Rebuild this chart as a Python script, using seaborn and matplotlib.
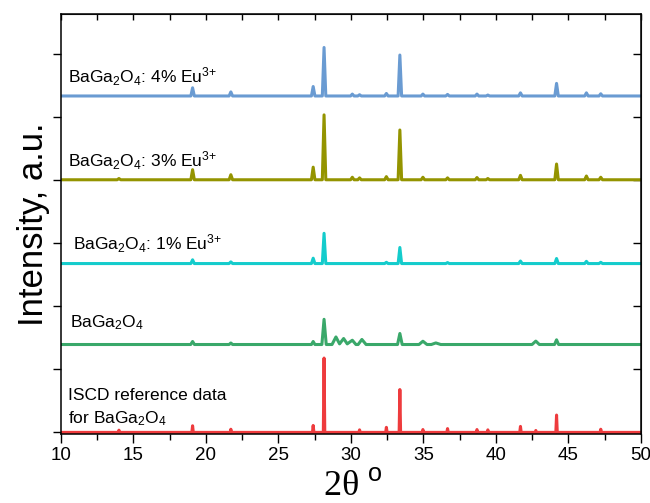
import matplotlib
matplotlib.use('Agg')
import numpy as np
import pandas as pd
import matplotlib.pyplot as plt
import seaborn as sns

# XRD patterns (2theta in degrees, intensity in a.u. above each trace's baseline)
samples = ['ISCD', 'BaGa2O4', '1% Eu', '3% Eu', '4% Eu']
colors = ['#ee3b3d', '#3aa86a', '#14cccc', '#949400', '#6a9bd2']
offsets = [0.0, 1.395, 2.68, 4.01, 5.34]

iscd_x = [10, 13.95, 14.0, 14.05, 19.03, 19.08, 19.13, 21.67, 21.72, 21.77,
          27.35, 27.4, 27.45, 28.1, 28.15, 28.2, 30.55, 30.6, 30.65,
          32.4, 32.45, 32.5, 33.33, 33.38, 33.43, 34.92, 34.97, 35.02,
          36.62, 36.67, 36.72, 38.65, 38.7, 38.75, 39.4, 39.45, 39.5,
          41.65, 41.7, 41.75, 42.71, 42.76, 42.81, 44.14, 44.19, 44.24,
          47.19, 47.24, 47.29, 50]
iscd_y = [0, 0, 0.035, 0, 0, 0.105, 0, 0, 0.05, 0,
          0, 0.11, 0, 0, 1.18, 0, 0, 0.04, 0,
          0, 0.08, 0, 0, 0.68, 0, 0, 0.045, 0,
          0, 0.06, 0, 0, 0.045, 0, 0, 0.04, 0,
          0, 0.095, 0, 0, 0.03, 0, 0, 0.275, 0,
          0, 0.05, 0, 0]

pure_x = [10, 18.95, 19.08, 19.21, 21.6, 21.72, 21.84, 27.28, 27.4, 27.52,
          28.0, 28.15, 28.3, 28.7, 28.97, 29.22, 29.5, 29.75, 30.1, 30.35,
          30.5, 30.76, 31.05, 33.22, 33.38, 33.54, 34.7, 34.97, 35.25,
          35.55, 35.86, 36.2, 42.5, 42.76, 43.0, 44.05, 44.19, 44.33, 50]
pure_y = [0, 0, 0.048, 0, 0, 0.024, 0, 0, 0.048, 0,
          0, 0.40, 0, 0, 0.12, 0.01, 0.095, 0.01, 0.068, 0,
          0, 0.08, 0, 0, 0.175, 0, 0, 0.052, 0,
          0, 0.025, 0, 0, 0.054, 0, 0, 0.075, 0, 0]

eu1_x = [10, 18.96, 19.08, 19.2, 21.6, 21.72, 21.84, 27.28, 27.4, 27.52,
         28.03, 28.15, 28.27, 32.33, 32.45, 32.57, 33.26, 33.38, 33.5,
         36.55, 36.67, 36.79, 41.58, 41.7, 41.82, 44.07, 44.19, 44.31,
         46.13, 46.25, 46.37, 47.12, 47.24, 47.36, 50]
eu1_y = [0, 0, 0.06, 0, 0, 0.027, 0, 0, 0.085, 0,
         0, 0.48, 0, 0, 0.02, 0, 0, 0.255, 0,
         0, 0.015, 0, 0, 0.04, 0, 0, 0.08, 0,
         0, 0.035, 0, 0, 0.02, 0, 0]

eu3_x = [10, 13.88, 14.0, 14.12, 18.96, 19.08, 19.2, 21.6, 21.72, 21.84,
         27.28, 27.4, 27.52, 28.03, 28.15, 28.27, 29.98, 30.1, 30.22,
         30.48, 30.6, 30.72, 32.33, 32.45, 32.57, 33.26, 33.38, 33.5,
         34.85, 34.97, 35.09, 36.55, 36.67, 36.79, 38.58, 38.7, 38.82,
         39.33, 39.45, 39.57, 41.58, 41.7, 41.82, 44.07, 44.19, 44.31,
         46.13, 46.25, 46.37, 47.12, 47.24, 47.36, 50]
eu3_y = [0, 0, 0.02, 0, 0, 0.16, 0, 0, 0.08, 0,
         0, 0.2, 0, 0, 1.03, 0, 0, 0.04, 0,
         0, 0.03, 0, 0, 0.05, 0, 0, 0.79, 0,
         0, 0.04, 0, 0, 0.03, 0, 0, 0.035, 0,
         0, 0.02, 0, 0, 0.07, 0, 0, 0.25, 0,
         0, 0.06, 0, 0, 0.04, 0, 0]

eu4_x = [10, 18.96, 19.08, 19.2, 21.6, 21.72, 21.84,
         27.28, 27.4, 27.52, 28.03, 28.15, 28.27, 29.98, 30.1, 30.22,
         30.48, 30.6, 30.72, 32.33, 32.45, 32.57, 33.26, 33.38, 33.5,
         34.85, 34.97, 35.09, 36.55, 36.67, 36.79, 38.58, 38.7, 38.82,
         39.33, 39.45, 39.57, 41.58, 41.7, 41.82, 44.07, 44.19, 44.31,
         46.13, 46.25, 46.37, 47.12, 47.24, 47.36, 50]
eu4_y = [0, 0, 0.13, 0, 0, 0.065, 0,
         0, 0.15, 0, 0, 0.77, 0, 0, 0.03, 0,
         0, 0.02, 0, 0, 0.04, 0, 0, 0.65, 0,
         0, 0.03, 0, 0, 0.025, 0, 0, 0.03, 0,
         0, 0.015, 0, 0, 0.05, 0, 0, 0.2, 0,
         0, 0.05, 0, 0, 0.035, 0, 0]

xs = [iscd_x, pure_x, eu1_x, eu3_x, eu4_x]
ys = [iscd_y, pure_y, eu1_y, eu3_y, eu4_y]

sns.set_style('ticks')
plt.rcParams['font.family'] = ['Liberation Sans', 'DejaVu Sans']
plt.rcParams['mathtext.fontset'] = 'custom'
plt.rcParams['mathtext.rm'] = 'Liberation Sans'
plt.rcParams['mathtext.it'] = 'Liberation Sans:italic'
plt.rcParams['mathtext.bf'] = 'Liberation Sans:bold'
plt.rcParams['text.color'] = 'black'
plt.rcParams['axes.labelcolor'] = 'black'
plt.rcParams['xtick.color'] = 'black'
plt.rcParams['ytick.color'] = 'black'

# stack the patterns into one long table
frames = []
for name, x, y, off in zip(samples, xs, ys, offsets):
    frames.append(pd.DataFrame({'2theta': x, 'Intensity': np.array(y) + off, 'Sample': name}))
xrd = pd.concat(frames, ignore_index=True)

fig = plt.figure(figsize=(6.5, 5.03), dpi=100)
ax = fig.add_axes([0.0938, 0.137, 0.892, 0.835])
sns.lineplot(data=xrd, x='2theta', y='Intensity', hue='Sample', palette=colors,
             estimator=None, sort=False, lw=2.2, legend=False, ax=ax)

ax.set_xlim(10, 50)
ax.set_ylim(-0.027, 6.64)
ax.set_xticks(np.arange(10, 51, 5))
ax.set_xticks(np.arange(12.5, 50, 5), minor=True)
ax.set_yticks(np.arange(0, 7, 1))
ax.tick_params(axis='x', which='major', direction='out', length=6.5, width=1, labelsize=13.5, pad=3)
ax.tick_params(axis='x', which='minor', direction='out', length=4.3, width=1)
ax.tick_params(axis='y', direction='out', length=6, width=1, labelleft=False)
for s in ax.spines.values():
    s.set_linewidth(1.1)
    s.set_color('black')

# mirrored ticks pointing in on top and right
top = ax.secondary_xaxis('top')
top.set_xticks(np.arange(10, 51, 5))
top.set_xticks(np.arange(12.5, 50, 5), minor=True)
top.tick_params(which='both', direction='in', length=4.5, width=1, labeltop=False)
right = ax.secondary_yaxis('right')
right.set_yticks(np.arange(0, 7, 1))
right.tick_params(direction='in', length=6, width=1, labelright=False)

ax.set_xlabel('')
fig.text(353 / 650, 8 / 503, r'2θ $^{\mathrm{o}}$', family='Liberation Serif', fontsize=26,
         ha='center', va='baseline')
ax.set_ylabel('Intensity, a.u.', fontsize=25, labelpad=2)

lab = dict(fontsize=12.5, va='baseline')
ax.text(10.48, 5.545, r'BaGa$_2$O$_4$: 4% Eu$^{3{+}}$', **lab)
ax.text(10.46, 4.216, r'BaGa$_2$O$_4$: 3% Eu$^{3{+}}$', **lab)
ax.text(10.8, 2.894, r'BaGa$_2$O$_4$: 1% Eu$^{3{+}}$', **lab)
ax.text(10.62, 1.676, r'BaGa$_2$O$_4$', **lab)
ax.text(10.48, 0.513, 'ISCD reference data', **lab)
ax.text(10.48, 0.148, r'for BaGa$_2$O$_4$', **lab)

fig.savefig('out.png', dpi=100)
